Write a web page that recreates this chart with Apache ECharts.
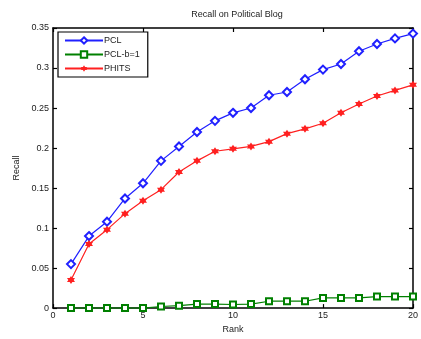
<!DOCTYPE html>
<html><head><meta charset="utf-8">
<script src="https://cdn.jsdelivr.net/npm/echarts@6/dist/echarts.min.js"></script>
<style>html,body{margin:0;padding:0;background:#fff}#c{width:421px;height:339px}</style>
</head><body><div id="c"></div>
<script>
const ranks = [1,2,3,4,5,6,7,8,9,10,11,12,13,14,15,16,17,18,19,20];
const pcl = [0.055,0.090,0.108,0.137,0.156,0.184,0.202,0.220,0.234,0.244,0.250,0.266,0.270,0.286,0.298,0.305,0.321,0.330,0.337,0.343];
const pclB1 = [0,0,0,0,0,0.002,0.003,0.005,0.005,0.0045,0.005,0.0086,0.0086,0.0086,0.0127,0.0127,0.0127,0.0144,0.0144,0.0144];
const phits = [0.035,0.080,0.098,0.118,0.134,0.148,0.170,0.184,0.196,0.199,0.202,0.208,0.218,0.224,0.231,0.244,0.255,0.265,0.272,0.279];
const seriesNames = ['PCL','PCL-b=1','PHITS'];
const xTicks = [0,5,10,15,20];
const yTicks = [0,0.05,0.1,0.15,0.2,0.25,0.3,0.35];

const pair = arr => ranks.map((r,i)=>[r,arr[i]]);
const star = 'path://M0,-10 L2.9,-5 L8.7,-5 L5.8,0 L8.7,5 L2.9,5 L0,10 L-2.9,5 L-8.7,5 L-5.8,0 L-8.7,-5 L-2.9,-5 Z';
const font = 'Liberation Sans';
const chart = echarts.init(document.getElementById('c'));
const axisCommon = {
  axisLine:{show:true,onZero:false,lineStyle:{color:'#000',width:1.5}},
  axisTick:{show:true,inside:true,length:4,lineStyle:{color:'#000',width:1.2}},
  splitLine:{show:false}
};
chart.setOption({
  animation:false,
  textStyle:{fontFamily:font},
  title:{text:'Recall on Political Blog',left:232,textAlign:'center',top:5,
    textStyle:{fontSize:9,fontWeight:'normal',color:'#222',fontFamily:font}},
  grid:{left:53,right:8,top:28,bottom:28,show:false},
  legend:{orient:'vertical',left:58,top:32,itemWidth:38,itemHeight:8,itemGap:5,
    padding:[4,8,4,6],borderColor:'#000',borderWidth:1.2,backgroundColor:'#fff',
    textStyle:{fontSize:9,color:'#222',fontFamily:font,padding:[0,0,0,-4]},
    data:seriesNames},
  xAxis:[
    Object.assign({type:'value',min:0,max:20,interval:5,position:'bottom',
      name:'Rank',nameLocation:'middle',nameGap:11,nameTextStyle:{fontSize:9,color:'#222'},
      axisLabel:{fontSize:9,color:'#222',margin:3,formatter:v=>xTicks.includes(v)?String(v):''}},axisCommon),
    Object.assign({type:'value',min:0,max:20,interval:5,position:'top',axisLabel:{show:false}},axisCommon)
  ],
  yAxis:[
    Object.assign({type:'value',min:0,max:0.35,interval:0.05,position:'left',
      name:'Recall',nameLocation:'middle',nameGap:31,nameTextStyle:{fontSize:9,color:'#222'},
      axisLabel:{fontSize:9,color:'#222',margin:4,formatter:v=>{const t=yTicks.find(k=>Math.abs(k-v)<1e-9);return t===undefined?'':String(+t.toFixed(2));}}},axisCommon),
    Object.assign({type:'value',min:0,max:0.35,interval:0.05,position:'right',axisLabel:{show:false}},axisCommon)
  ],
  series:[
    {name:seriesNames[0],type:'line',data:pair(pcl),symbol:'emptyDiamond',symbolSize:8,
      lineStyle:{color:'#2020ff',width:1.2},itemStyle:{color:'#2020ff',borderWidth:1.2},z:3},
    {name:seriesNames[1],type:'line',data:pair(pclB1),symbol:'emptyRect',symbolSize:6,
      lineStyle:{color:'#008000',width:1.2},itemStyle:{color:'#008000',borderWidth:1.4},z:3},
    {name:seriesNames[2],type:'line',data:pair(phits),symbol:star,symbolSize:8,
      lineStyle:{color:'#ff2020',width:1.2},itemStyle:{color:'#ff2020'},z:3}
  ]
});
</script></body></html>
